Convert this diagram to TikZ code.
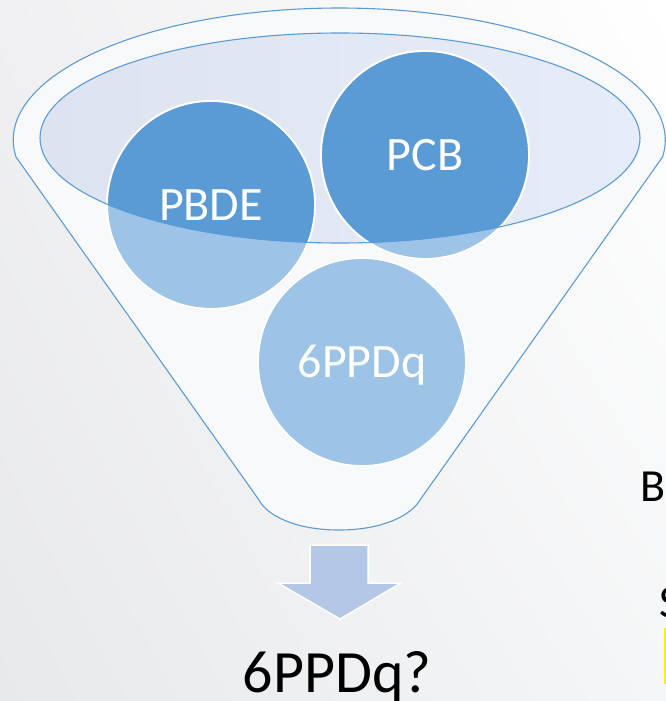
\documentclass[tikz,border=0pt]{standalone}
\usepackage{fontspec}
\setmainfont{Carlito}
\usetikzlibrary{shadings}
\definecolor{funnelblue}{HTML}{5B9BD5}
\definecolor{lightblob}{HTML}{9DC3E6}
\definecolor{darkblob}{HTML}{5B9BD5}
\definecolor{arrowfill}{HTML}{B4C7E7}
\definecolor{bodyfill}{HTML}{F8F9FA}
\definecolor{rimleft}{HTML}{DDE4EF}
\definecolor{rimright}{HTML}{E6EDF8}
\definecolor{bgll}{HTML}{E8E9EB}
\definecolor{bgul}{HTML}{F0F0F2}
\definecolor{bglr}{HTML}{F5F6F7}
\begin{document}
\begin{tikzpicture}[x=1pt, y=-1pt,
  outline/.style={draw=funnelblue, line width=1.1pt},
  bubble/.style={circle, minimum size=208pt, inner sep=0pt, fill=lightblob, draw=white, line width=1.8pt},
  bubblelabel/.style={text=white, font=\fontsize{48}{50}\selectfont, anchor=base, inner sep=0pt},
  sidetext/.style={text=black, font=\fontsize{46}{50}\selectfont, anchor=base west, inner sep=0pt}
]
\useasboundingbox (0,0) rectangle (666,701);
\clip (0,0) rectangle (666,701);

% page background, grey towards the lower left
\shade[lower left=bgll, upper left=bgul, lower right=bglr, upper right=white]
  (0,0) rectangle (666,701);

% funnel body: rim over the top, straight sides, rounded spout
\filldraw[outline, fill=bodyfill]
  (16,157) arc[start angle=172.6, end angle=367.4, x radius=326, y radius=132]
  -- (420,500)
  .. controls (412,514) and (385,530) .. (339,530)
  .. controls (293,530) and (266,514) .. (259,500)
  -- cycle;

% opening of the funnel
\shade[left color=rimleft, right color=rimright] (340,138) ellipse[x radius=300, y radius=105];

% the three bubbles
\node[bubble] (pbde) at (211,205) {};
\node[bubble] (pcb)  at (425,155) {};
\node[bubble] (ppdq) at (362,362) {};

% darker where the bubbles sit inside the opening
\begin{scope}
  \clip (340,138) ellipse[x radius=300, y radius=105];
  \fill[darkblob] (pbde.center) circle[radius=104];
  \fill[darkblob] (pcb.center) circle[radius=104];
\end{scope}
\draw[white, line width=1.8pt] (pbde.center) circle[radius=104];
\draw[white, line width=1.8pt] (pcb.center) circle[radius=104];
\draw[outline] (340,138) ellipse[x radius=300, y radius=105];

\node[bubblelabel] (pbdeText) at (211,220.5) {PBDE};
\node[bubblelabel] (pcbText)  at (425,170.5) {PCB};
\node[bubblelabel] (ppdqText) at (362,377.5) {6PPDq};

% output arrow
\filldraw[fill=arrowfill, draw=white, line width=1.5pt]
  (310,545) -- (368,545) -- (368,583) -- (401,583) -- (340,619)
  -- (278,583) -- (310,583) -- cycle;

\node[text=black, font=\fontsize{60}{64}\selectfont, anchor=base, inner sep=0pt] (result) at (337,692) {6PPDq?};

% text running in from the right edge
\node[sidetext] (sideB) at (640,501) {B};
\node[sidetext] (sideS) at (659,617) {S};
\fill[yellow] (663.5,628) rectangle (668,684);
\end{tikzpicture}
\end{document}
